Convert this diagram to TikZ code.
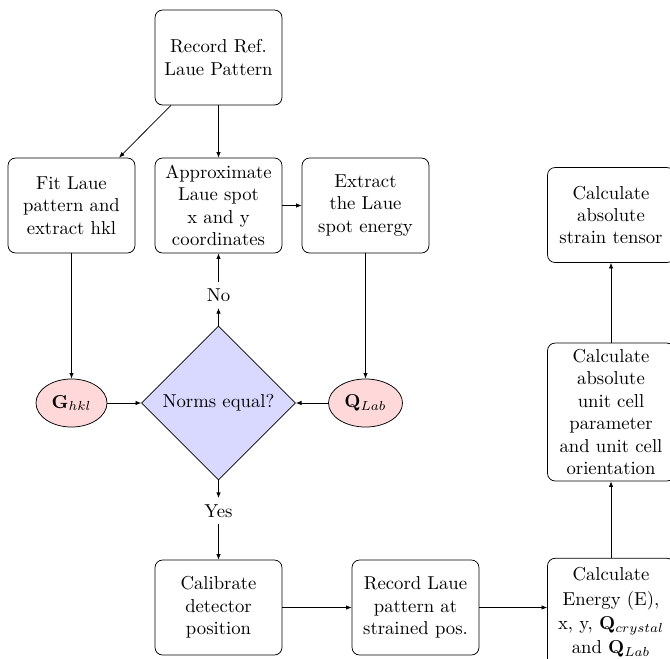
\documentclass[tikz,border=0pt]{standalone}
\usetikzlibrary{shapes.geometric,arrows.meta}
\begin{document}
\begin{tikzpicture}[x=0.535pt,y=-0.535pt,
  stepbox/.style={draw,rounded corners=4pt,align=center,minimum width=67.9pt,minimum height=50.8pt,inner sep=3.3pt,line width=0.4pt},
  vecnode/.style={draw,ellipse,fill=red!15,minimum height=25.7pt,inner sep=2pt,line width=0.4pt},
  decide/.style={draw,diamond,fill=blue!15,minimum size=82.4pt,inner sep=1pt,line width=0.4pt},
  lbl/.style={inner sep=3.3pt},
  arr/.style={-{Latex[length=3pt,width=2.4pt]},line width=0.4pt}]
\useasboundingbox (0,0) rectangle (670,658);
\node[stepbox] (rec) at (218.5,57.5) {Record Ref.\\Laue Pattern};
\node[stepbox] (fit) at (71.5,205.5) {Fit Laue\\pattern and\\extract hkl};
\node[stepbox] (approx) at (218.5,205.5) {Approximate\\Laue spot\\x and y\\coordinates};
\node[stepbox] (extract) at (365.5,205.5) {Extract\\the Laue\\spot energy};
\node[stepbox] (strain) at (611,215) {Calculate\\absolute\\strain tensor};
\node[vecnode,minimum width=38pt] (G) at (71.5,403) {$\mathbf{G}_{hkl}$};
\node[decide] (dia) at (218.5,403) {Norms equal?};
\node[vecnode,minimum width=39.6pt] (Q) at (365.5,403) {$\mathbf{Q}_{Lab}$};
\node[stepbox] (unit) at (611,412) {Calculate\\absolute\\unit cell\\parameter\\and unit cell\\orientation};
\node[lbl] (no) at (218.5,295) {No};
\node[lbl] (yes) at (218.5,511) {Yes};
\node[stepbox] (calib) at (218.5,607.5) {Calibrate\\detector\\position};
\node[stepbox] (recstr) at (415.5,607.5) {Record Laue\\pattern at\\strained pos.};
\node[stepbox,minimum height=58pt] (energy) at (611,612.5) {Calculate\\[1pt]Energy (E),\\[1pt]x, y, $\mathbf{Q}_{crystal}$\\[1pt]and $\mathbf{Q}_{Lab}$};
\draw[arr] (rec) -- (fit);
\draw[arr] (rec) -- (approx);
\draw[arr] (approx) -- (extract);
\draw[arr] (fit) -- (G);
\draw[arr] (extract) -- (Q);
\draw[arr] (G) -- (dia);
\draw[arr] (Q) -- (dia);
\draw[arr] (dia) -- (no);
\draw[arr] (no) -- (approx);
\draw[arr] (dia) -- (yes);
\draw[arr] (yes) -- (calib);
\draw[arr] (calib) -- (recstr);
\draw[arr] (recstr) -- (energy.west |- recstr);
\draw[arr] (energy) -- (unit);
\draw[arr] (unit) -- (strain);
\end{tikzpicture}
\end{document}
